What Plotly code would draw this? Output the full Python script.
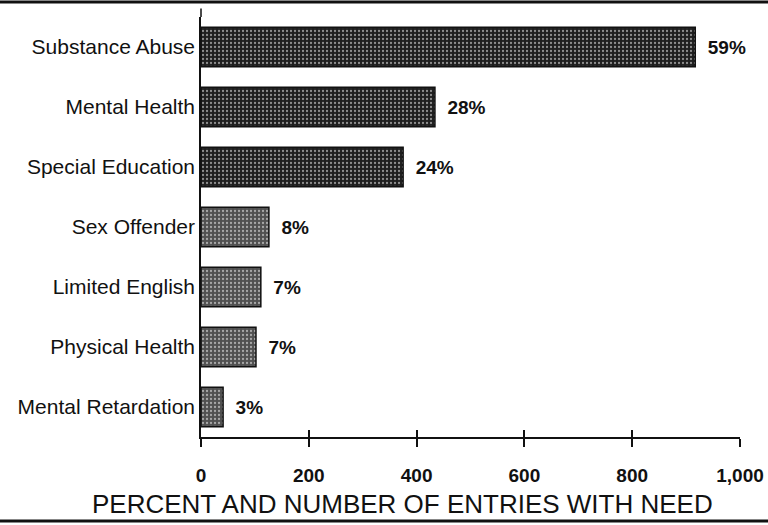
import plotly.graph_objects as go

categories = ["Substance Abuse", "Mental Health", "Special Education", "Sex Offender",
              "Limited English", "Physical Health", "Mental Retardation"]
counts = [917, 434, 375, 126, 111, 102, 41]
percents = ["59%", "28%", "24%", "8%", "7%", "7%", "3%"]
tick_vals = [0, 200, 400, 600, 800, 1000]
tick_text = ["0", "200", "400", "600", "800", "1,000"]
bar_colors = ["#1e1e1e", "#1e1e1e", "#1e1e1e", "#505050", "#505050", "#505050", "#505050"]
axis_title = "PERCENT AND NUMBER OF ENTRIES WITH NEED"

font_main = "Arial, Liberation Sans, Helvetica, sans-serif"

fig = go.Figure()
fig.add_trace(go.Bar(
    y=categories, x=counts, orientation="h",
    text=percents, textposition="outside",
    textfont=dict(family=font_main, size=19, color="#111"),
    texttemplate="\u2002<b>%{text}</b>",
    marker=dict(color=bar_colors, line=dict(color="#111", width=1.5),
                pattern=dict(shape=".", fgcolor="#9a9a9a", size=4, solidity=0.25)),
    width=0.66, cliponaxis=False,
))
# invisible trace for inside ticks on overlaying axis
fig.add_trace(go.Scatter(x=[0, 1000], y=[categories[0], categories[0]], xaxis="x2",
                         mode="markers", marker=dict(opacity=0), hoverinfo="skip",
                         showlegend=False))

fig.update_layout(
    width=768, height=525,
    margin=dict(l=201, r=28, t=17, b=88, autoexpand=False),
    plot_bgcolor="white", paper_bgcolor="white",
    showlegend=False,
    font=dict(family=font_main, color="#111"),
    xaxis=dict(range=[0, 1000], tickvals=tick_vals,
               ticktext=["<b>" + t + "</b>" for t in tick_text],
               ticks="outside", ticklen=8, tickwidth=1.5, tickcolor="#111",
               showline=True, linecolor="#111", linewidth=1.5, showgrid=False, zeroline=False,
               tickfont=dict(size=19, family=font_main, color="#111"),
               ticklabelstandoff=12),
    xaxis2=dict(range=[0, 1000], overlaying="x", side="bottom", tickvals=tick_vals,
                ticks="inside", ticklen=7, tickwidth=1.5, tickcolor="#111",
                showticklabels=False, showgrid=False, zeroline=False, showline=False,
                anchor="y"),
    yaxis=dict(autorange="reversed", showline=True, linecolor="#111", linewidth=1.5,
               showgrid=False, ticks="", zeroline=False,
               tickfont=dict(size=21, family=font_main, color="#111"),
               ticklabelstandoff=0),
    annotations=[
        dict(text=axis_title, xref="paper", yref="paper", x=0.373, y=-0.16,
             xanchor="center", yanchor="middle", showarrow=False,
             font=dict(size=26, family=font_main, color="#111")),
    ],
    shapes=[
        dict(type="line", xref="paper", yref="paper", x0=-0.373, x1=1.06, y0=1.036, y1=1.036,
             line=dict(color="#111", width=3)),
        dict(type="line", xref="paper", yref="paper", x0=-0.373, x1=1.06, y0=-0.2, y1=-0.2,
             line=dict(color="#111", width=3)),
        dict(type="line", xref="paper", yref="paper", x0=0, x1=0, y0=1.0, y1=1.02,
             line=dict(color="#111", width=1.5)),
    ],
)

fig.write_html("out.html", config={"displayModeBar": False},
               post_script="document.body.style.margin='0';document.body.style.overflow='hidden';")
